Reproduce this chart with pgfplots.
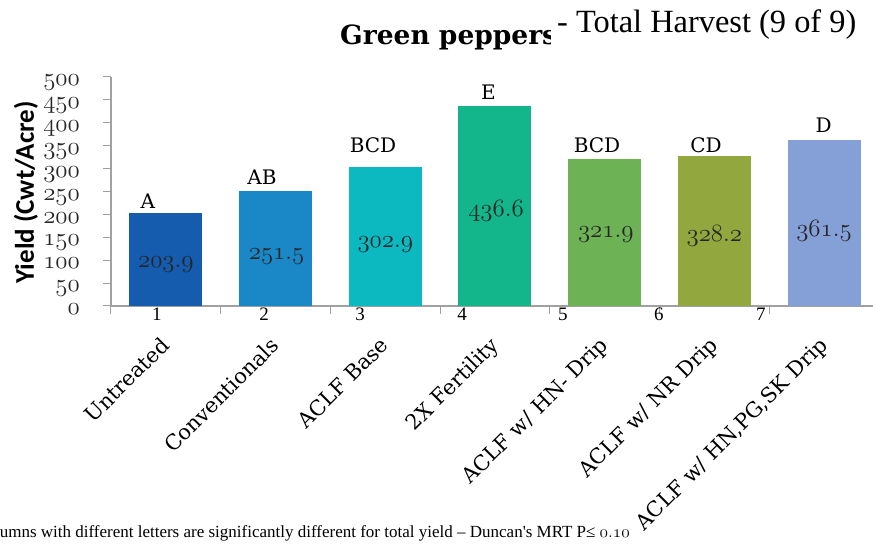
\documentclass[border=0pt]{standalone}
\usepackage{pgfplots}
\pgfplotsset{compat=1.18}
\usepackage{fontspec}
\setmainfont{DejaVu Serif}
\newfontfamily\timesf{Liberation Serif}
\newfontfamily\calib{Carlito}
\newfontfamily\dvs{DejaVu Serif}
\newcommand\osfont{\fontencoding{OML}\fontfamily{cmm}\fontseries{m}\fontshape{it}\fontsize{24}{24}\selectfont}
\newcommand\osvfont{\fontencoding{OML}\fontfamily{cmm}\fontseries{m}\fontshape{it}\fontsize{24.5}{24.5}\selectfont}
\definecolor{c1}{RGB}{21,91,174}
\definecolor{c2}{RGB}{26,135,198}
\definecolor{c3}{RGB}{13,185,193}
\definecolor{c4}{RGB}{18,182,138}
\definecolor{c5}{RGB}{109,179,86}
\definecolor{c6}{RGB}{146,168,62}
\definecolor{c7}{RGB}{133,160,214}
\definecolor{axgray}{RGB}{160,160,160}
\begin{document}
\begin{tikzpicture}[x=1pt,y=1pt]
\useasboundingbox (0,0) rectangle (873,548);
\clip (0,0) rectangle (873,548);
\begin{axis}[
  at={(111pt,242pt)}, anchor=south west,
  scale only axis, width=762pt, height=229pt,
  xmin=-0.5, xmax=6.446, ymin=0, ymax=500,
  axis x line*=bottom, axis y line*=left,
  axis line style={draw=axgray, line width=1.1pt, -},
  hide obscured x ticks=false, hide obscured y ticks=false,
  tick align=outside, major tick length=8pt,
  tick style={draw=axgray, line width=1pt},
  xtick={-0.5,0.5,1.5,2.5,3.5,4.5,5.5},
  xticklabels={},
  ytick={0,50,100,150,200,250,300,350,400,450,500},
  yticklabels={0,50,100,150,200,250,300,350,400,450,500},
  yticklabel style={font=\osfont, text=black!85, anchor=base east, inner sep=0pt, yshift=-8.7pt, xshift=-23pt},
  clip=false,
]
\addplot[ybar, bar width=73pt, fill=c1, draw=none] coordinates {(0,203.9)};
\addplot[ybar, bar width=73pt, fill=c2, draw=none] coordinates {(1,251.5)};
\addplot[ybar, bar width=73pt, fill=c3, draw=none] coordinates {(2,302.9)};
\addplot[ybar, bar width=73pt, fill=c4, draw=none] coordinates {(3,436.6)};
\addplot[ybar, bar width=73pt, fill=c5, draw=none] coordinates {(4,321.9)};
\addplot[ybar, bar width=73pt, fill=c6, draw=none] coordinates {(5,328.2)};
\addplot[ybar, bar width=73pt, fill=c7, draw=none] coordinates {(6,361.5)};
% values inside bars
\tikzset{vall/.style={anchor=base, inner sep=0pt, font=\osvfont, text=black!85}}
\node[vall] at (axis cs:0.00,83) {203\char58 9};
\node[vall] at (axis cs:1.01,102) {251\char58 5};
\node[vall] at (axis cs:2.00,127) {302\char58 9};
\node[vall] at (axis cs:3.01,195) {436\char58 6};
\node[vall] at (axis cs:4.01,150) {321\char58 9};
\node[vall] at (axis cs:5.00,140) {328\char58 2};
\node[vall] at (axis cs:6.00,152) {361\char58 5};
% significance letters
\tikzset{lett/.style={anchor=base, inner sep=0pt, font=\dvs\fontsize{20}{20}\selectfont}}
\node[lett] at (axis cs:-0.163,211.8) {A};
\node[lett] at (axis cs:0.876,266) {AB};
\node[lett] at (axis cs:1.888,336) {BCD};
\node[lett] at (axis cs:2.941,450) {E};
\node[lett] at (axis cs:3.93,336) {BCD};
\node[lett] at (axis cs:4.924,336) {CD};
\node[lett] at (axis cs:5.995,378) {D};
% numbers under axis
\tikzset{numl/.style={anchor=base, inner sep=0pt, font=\timesf\fontsize{19}{19}\selectfont}}
\node[numl] at (axis cs:-0.081,-32.75) {1};
\node[numl] at (axis cs:0.895,-32.75) {2};
\node[numl] at (axis cs:1.77,-32.75) {3};
\node[numl] at (axis cs:2.70,-32.75) {4};
\node[numl] at (axis cs:3.62,-32.75) {5};
\node[numl] at (axis cs:4.495,-32.75) {6};
\node[numl] at (axis cs:5.425,-32.75) {7};
% category labels
\tikzset{catl/.style={rotate=45, anchor=north east, inner sep=0pt, font=\dvs\fontsize{21}{21}\selectfont}}
\node[catl] at (axis cs:-0.06,-64) {Untreated};
\node[catl] at (axis cs:0.94,-64) {Conventionals};
\node[catl] at (axis cs:1.94,-64) {ACLF Base};
\node[catl] at (axis cs:2.94,-64) {2X Fertility};
\node[catl] at (axis cs:3.94,-64) {ACLF w/ HN- Drip};
\node[catl] at (axis cs:4.94,-64) {ACLF w/ NR Drip};
\node[catl] at (axis cs:5.94,-64) {ACLF w/ HN,PG,SK Drip};
\end{axis}
% y label
\node[rotate=90, inner sep=0pt, font=\calib\bfseries\fontsize{27}{27}\selectfont] at (26,355.5) {Yield (Cwt/Acre)};
% title
\node[anchor=base west, inner sep=0pt, font=\dvs\bfseries\fontsize{26.5}{27}\selectfont] at (340,503) {Green peppers};
\node[anchor=base west, fill=white, inner xsep=6pt, inner ysep=8pt, font=\timesf\fontsize{32.4}{33}\selectfont] at (551,515) {- Total Harvest (9 of 9)};
% footnote
\node[anchor=base east, inner sep=0pt, font=\timesf\fontsize{17}{17}\selectfont] at (630,10) {Columns with different letters are significantly different for total yield – Duncan's MRT P≤ {\fontencoding{OML}\fontfamily{cmm}\fontseries{m}\fontshape{it}\fontsize{17}{17}\selectfont 0\char58 10}};
\end{tikzpicture}
\end{document}
